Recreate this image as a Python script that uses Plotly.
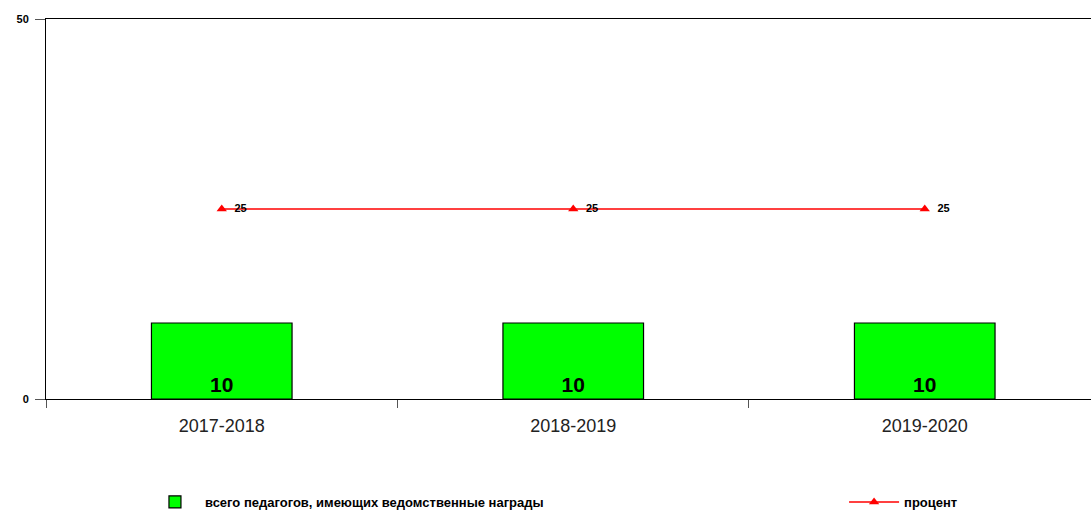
import plotly.graph_objects as go

years = ["2017-2018", "2018-2019", "2019-2020"]
awarded = [10, 10, 10]
percent = [25, 25, 25]

BAR_NAME = "всего педагогов, имеющих ведомственные награды"
LINE_NAME = "процент"
FONT = "Liberation Sans, Arial, sans-serif"

fig = go.Figure()
fig.add_trace(go.Bar(
    x=years, y=awarded, name=BAR_NAME, width=0.4, legend="legend",
    marker=dict(color="#00ff00", line=dict(color="#000000", width=1.2)),
    text=awarded, textposition="inside", insidetextanchor="start",
    textfont=dict(size=21, color="#000000", family=FONT, weight="bold"),
))
fig.add_trace(go.Scatter(
    x=years, y=percent, name=LINE_NAME, mode="lines+markers+text", legend="legend2",
    line=dict(color="#ff0000", width=1.5),
    marker=dict(symbol="triangle-up", size=9, color="#ff0000"),
    text=percent, texttemplate="  %{text}", textposition="middle right",
    textfont=dict(size=11, color="#000000", family=FONT, weight="bold"),
))

legend_font = dict(size=13, family=FONT, weight="bold", color="#000000")

fig.update_layout(
    width=1091, height=510,
    margin=dict(l=46, r=0, t=19, b=111, autoexpand=False),
    paper_bgcolor="white", plot_bgcolor="white",
    font=dict(family=FONT, color="#000000"),
    showlegend=True,
    legend=dict(
        x=0.0947, xanchor="left", y=-0.271, yanchor="middle",
        font=legend_font, itemwidth=50,
    ),
    legend2=dict(
        x=0.7637, xanchor="left", y=-0.271, yanchor="middle",
        font=legend_font, itemwidth=50,
    ),
    xaxis=dict(
        type="category", range=[-0.5, 2.473], automargin=False,
        showline=True, linecolor="#000000", linewidth=1, mirror=True,
        ticks="outside", tickson="boundaries", ticklen=8, tickcolor="#555555",
        ticklabelstandoff=10,
        showgrid=False, tickfont=dict(size=18, color="#222222"),
    ),
    yaxis=dict(
        range=[0, 50], tickvals=[0, 50], automargin=False,
        showline=True, linecolor="#000000", linewidth=1,
        ticks="outside", ticklen=10, tickcolor="#555555",
        ticklabelstandoff=4,
        showgrid=False, zeroline=False,
        tickfont=dict(size=11, weight="bold"),
    ),
)

# drop the default page margin so the figure sits at the window's corner
fig.write_html("out.html", config={"displayModeBar": False},
               post_script="document.body.style.margin='0';")
